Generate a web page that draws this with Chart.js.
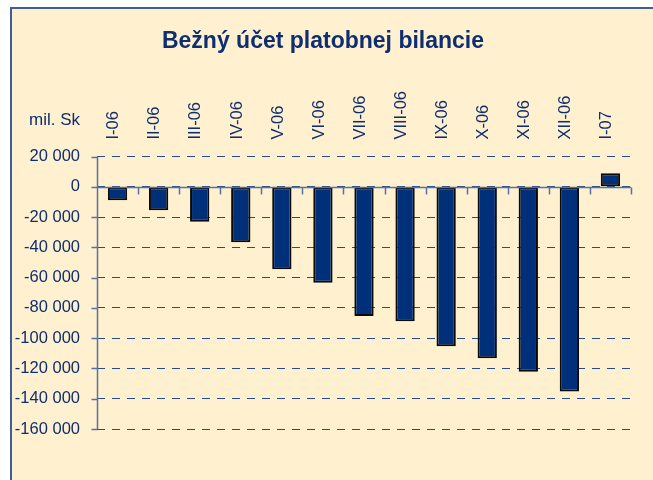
<!DOCTYPE html>
<html>
<head>
<meta charset="utf-8">
<script src="https://cdn.jsdelivr.net/npm/chart.js@4.4.1/dist/chart.umd.min.js"></script>
<style>
  html, body { margin: 0; padding: 0; background: #fff; }
  #box {
    position: absolute; left: 10px; top: 7px; width: 643px; height: 473px;
    box-sizing: border-box; background: #fff0cf;
    border-left: 2px solid #3d5e9a; border-top: 2px solid #3d5e9a;
  }
</style>
</head>
<body>
<div id="box"><canvas id="chart"></canvas></div>
<script>
const months = ["I-06","II-06","III-06","IV-06","V-06","VI-06","VII-06","VIII-06","IX-06","X-06","XI-06","XII-06","I-07"];
const balance = [-8800,-15400,-23100,-36600,-54400,-63300,-85300,-88800,-105400,-113300,-122100,-135300,9000];
const yMin = -160000, yMax = 20000, yStep = 20000;
const unitLabel = "mil. Sk";
const titleText = "Bežný účet platobnej bilancie";

const textBlue = "#0f2e70";
const axisBlue = "#5a71a3";
const gridBlue = "#244c8c";
const FONT = "'Liberation Sans', Arial, sans-serif";

// "20 000" style numbers
const fmt = v => (v < 0 ? "-" : "") + String(Math.abs(v)).replace(/\B(?=(\d{3})+(?!\d))/g, " ");

// axis lines, tick marks and the unit caption
const axesPlugin = {
  id: "axes",
  afterDraw(chart) {
    const {ctx, chartArea, scales: {x, y}} = chart;
    const y0 = Math.round(y.getPixelForValue(0)) + 0.5;
    const left = Math.round(chartArea.left) + 0.5;
    const half = (x.getPixelForValue(1) - x.getPixelForValue(0)) / 2;
    ctx.save();
    ctx.setLineDash([]);
    ctx.strokeStyle = axisBlue;
    ctx.lineWidth = 1.5;
    ctx.beginPath();
    // vertical axis + its ticks
    ctx.moveTo(left, y.getPixelForValue(yMax));
    ctx.lineTo(left, y.getPixelForValue(yMin));
    y.ticks.forEach(t => {
      const py = Math.round(y.getPixelForValue(t.value)) + 0.5;
      ctx.moveTo(left - 6, py);
      ctx.lineTo(left, py);
    });
    // zero line + category boundary ticks
    ctx.moveTo(left, y0);
    ctx.lineTo(chartArea.right, y0);
    for (let i = 0; i <= months.length; i++) {
      const px = Math.round(x.getPixelForValue(0) - half + i * 2 * half) + 0.5;
      ctx.moveTo(px, y0);
      ctx.lineTo(px, y0 + 7);
    }
    ctx.stroke();

    ctx.font = "17px " + FONT;
    ctx.fillStyle = textBlue;
    ctx.textAlign = "right";
    ctx.textBaseline = "alphabetic";
    ctx.fillText(unitLabel, chartArea.left - 17, chartArea.top - 32);
    ctx.restore();
  }
};

new Chart(document.getElementById("chart"), {
  type: "bar",
  data: {
    labels: months,
    datasets: [{
      data: balance,
      backgroundColor: "#00307a",
      borderColor: "#0a0a0a",
      borderWidth: 2,
      borderSkipped: false,
      barPercentage: 0.47,
      categoryPercentage: 1
    }]
  },
  options: {
    responsive: true,
    maintainAspectRatio: false,
    animation: false,
    layout: { padding: { left: 3, right: 22, bottom: 51 } },
    plugins: {
      legend: { display: false },
      tooltip: { enabled: false },
      title: {
        display: true,
        text: titleText,
        color: textBlue,
        font: { family: FONT, size: 23, weight: "bold" },
        padding: { top: 19, bottom: 8 }
      }
    },
    scales: {
      x: {
        position: "top",
        grid: { display: false, drawTicks: false },
        border: { display: false },
        afterFit: s => { s.height = 93; s.paddingLeft = 0; s.paddingRight = 0; },
        ticks: {
          minRotation: 90, maxRotation: 90, autoSkip: false, padding: 17, labelOffset: 16,
          color: textBlue,
          font: { family: FONT, size: 16.5 }
        }
      },
      y: {
        min: yMin, max: yMax,
        afterFit: s => { s.width = 82; },
        grid: { color: gridBlue, lineWidth: 1, drawTicks: false },
        border: { display: false, dash: [8, 7] },
        ticks: {
          stepSize: yStep, padding: 17, color: textBlue,
          font: { family: FONT, size: 16.5 },
          callback: v => fmt(v)
        }
      }
    }
  },
  plugins: [axesPlugin]
});
</script>
</body>
</html>
